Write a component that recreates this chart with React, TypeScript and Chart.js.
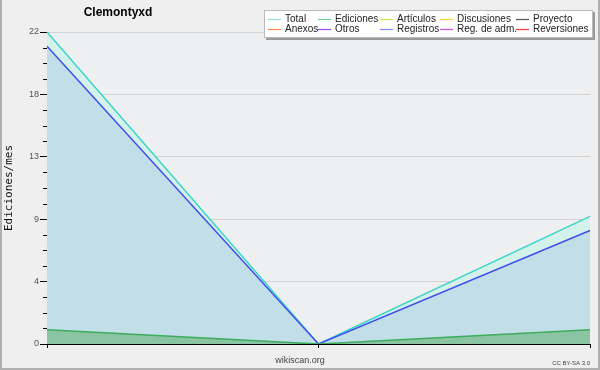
import { useEffect, useRef } from "react";
import { Chart, registerables } from "chart.js";

Chart.register(...registerables);

// ---- data ----
const categories = ["Mes 1", "Mes 2", "Mes 3"];
const totalValues = [22, 0, 9];
const registrosValues = [21, 0, 8];
const edicionesValues = [1, 0, 1];
const yMin = 0;
const yMax = 22;
const yMinorStep = 1.1;
const yMajorEvery = 4;

// ---- text ----
const chartTitle = "Clemontyxd";
const yAxisTitle = "Ediciones/mes";
const footerSource = "wikiscan.org";
const footerLicense = "CC BY-SA 3.0";
const legendRow1 = ["Total", "Ediciones", "Artículos", "Discusiones", "Proyecto"];
const legendRow2 = ["Anexos", "Otros", "Registros", "Reg. de adm.", "Reversiones"];

// ---- styles ----
const legendColorsRow1 = ["#8fe3da", "#6fcf8c", "#c2ec4a", "#ffcc40", "#555555"];
const legendColorsRow2 = ["#ff8a4a", "#9b4cf0", "#7c8cff", "#e04cf0", "#ff3a3a"];
const legendTextX = [285, 335, 397, 457, 533];
const SANS = '"Liberation Sans", Arial, sans-serif';

const decoPlugin = {
  id: "deco",
  beforeDraw(chart: any) {
    const { ctx, chartArea: a, width, height } = chart;
    ctx.save();
    ctx.fillStyle = "#efefef";
    ctx.fillRect(0, 0, width, height);
    ctx.fillStyle = "#eeeff1";
    ctx.fillRect(a.left, a.top, a.right - a.left, a.bottom - a.top);
    ctx.restore();
  },
  afterDraw(chart: any) {
    const { ctx } = chart;
    const y = chart.scales.y;
    ctx.save();
    // minor ticks
    ctx.strokeStyle = "#000";
    ctx.lineWidth = 1;
    ctx.beginPath();
    y.ticks.forEach((t: any, i: number) => {
      if (i % yMajorEvery !== 0) {
        const py = Math.round(y.getPixelForValue(t.value)) + 0.5;
        ctx.moveTo(y.right - 4, py);
        ctx.lineTo(y.right, py);
      }
    });
    ctx.stroke();

    // title
    ctx.fillStyle = "#000";
    ctx.font = `bold 12px ${SANS}`;
    ctx.textAlign = "center";
    ctx.textBaseline = "middle";
    ctx.fillText(chartTitle, 118, 13);

    // legend box
    ctx.fillStyle = "#9a9a9a";
    ctx.fillRect(266, 12, 329, 28);
    ctx.fillStyle = "#ffffff";
    ctx.fillRect(264, 10, 329, 28);
    ctx.strokeStyle = "#bbbbbb";
    ctx.strokeRect(264.5, 10.5, 328, 27);

    ctx.font = `10px ${SANS}`;
    ctx.textAlign = "left";
    ctx.textBaseline = "middle";
    const rows = [
      { labels: legendRow1, colors: legendColorsRow1, y: 19 },
      { labels: legendRow2, colors: legendColorsRow2, y: 29 },
    ];
    rows.forEach((r) => {
      r.labels.forEach((lab, i) => {
        const tx = legendTextX[i];
        ctx.strokeStyle = r.colors[i];
        ctx.lineWidth = 1.2;
        ctx.beginPath();
        ctx.moveTo(tx - 17, r.y + 0.5);
        ctx.lineTo(tx - 4, r.y + 0.5);
        ctx.stroke();
        ctx.fillStyle = "#222";
        ctx.fillText(lab, tx, r.y);
      });
    });

    // footer
    ctx.fillStyle = "#444";
    ctx.font = `9px ${SANS}`;
    ctx.textAlign = "center";
    ctx.fillText(footerSource, 300, 361);
    ctx.font = `6px ${SANS}`;
    ctx.textAlign = "right";
    ctx.fillText(footerLicense, 590, 363);

    // frame
    ctx.fillStyle = "#b0b0b0";
    ctx.fillRect(0, 0, 2, 370);
    ctx.fillRect(598, 0, 2, 370);
    ctx.fillRect(0, 368, 600, 2);
    ctx.restore();
  },
};

export default function App() {
  const ref = useRef<HTMLCanvasElement>(null);
  useEffect(() => {
    document.body.style.margin = "0";
    const canvas = ref.current!;
    const chart = new Chart(canvas, {
      type: "line",
      data: {
        labels: categories,
        datasets: [
          {
            label: "Ediciones",
            data: edicionesValues,
            borderColor: "#3cad5c",
            backgroundColor: "#8ac4a2",
            borderWidth: 1.5,
            fill: "origin",
            pointRadius: 0,
            tension: 0,
            order: 0,
          },
          {
            label: "Registros",
            data: registrosValues,
            borderColor: "#4050ec",
            backgroundColor: "#c2dee8",
            borderWidth: 1.5,
            fill: "origin",
            pointRadius: 0,
            tension: 0,
            order: 1,
          },
          {
            label: "Total",
            data: totalValues,
            borderColor: "#3dd6c6",
            backgroundColor: "#d4f2eb",
            borderWidth: 1.5,
            fill: "origin",
            pointRadius: 0,
            tension: 0,
            order: 2,
          },
        ],
      },
      options: {
        animation: false,
        responsive: false,
        devicePixelRatio: 1,
        layout: { padding: { left: 0, right: 10, top: 32, bottom: 0 } },
        plugins: {
          legend: { display: false },
          title: { display: false },
          tooltip: { enabled: false },
        },
        scales: {
          x: {
            type: "category",
            offset: false,
            grid: {
              display: true,
              drawOnChartArea: false,
              drawTicks: true,
              tickLength: 4,
              color: "#000",
              tickColor: "#000",
            },
            border: { display: true, color: "#000", width: 1 },
            ticks: { display: false },
            afterFit: (s: any) => {
              s.height = 26;
            },
          },
          y: {
            min: yMin,
            max: yMax,
            grid: {
              color: (c: any) => (c.index % yMajorEvery === 0 ? "#d2d2d2" : "rgba(0,0,0,0)"),
              tickColor: (c: any) => (c.index % yMajorEvery === 0 ? "#000" : "rgba(0,0,0,0)"),
              tickLength: 7,
            },
            border: { display: true, color: "#000", width: 1 },
            ticks: {
              stepSize: yMinorStep,
              autoSkip: false,
              padding: 1,
              color: "#555",
              font: { family: SANS, size: 9 },
              callback: (v: any, i: number) => (i % yMajorEvery === 0 ? String(Math.round(Number(v))) : ""),
            },
            title: {
              display: true,
              text: yAxisTitle,
              color: "#111",
              font: { family: '"DejaVu Sans Mono", monospace', size: 11 },
              padding: { top: 3, bottom: 0 },
            },
            afterFit: (s: any) => {
              s.width = 47;
            },
          },
        },
      },
      plugins: [decoPlugin],
    } as any);
    return () => chart.destroy();
  }, []);
  return <canvas ref={ref} width={600} height={370} style={{ display: "block" }} />;
}
